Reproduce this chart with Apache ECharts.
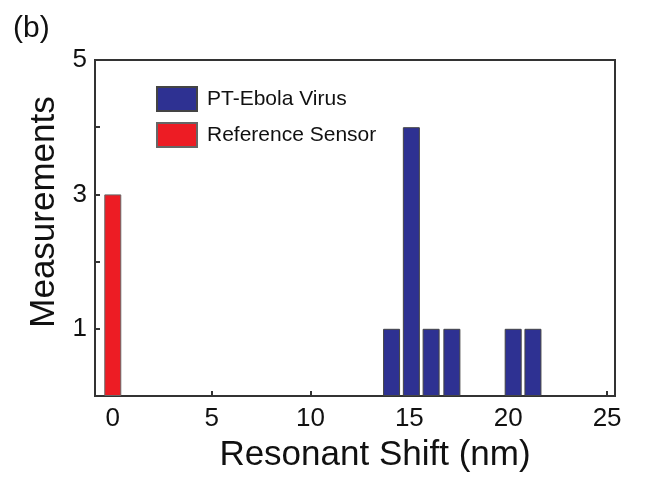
<!DOCTYPE html>
<html>
<head>
<meta charset="utf-8">
<script src="https://cdn.jsdelivr.net/npm/echarts@6/dist/echarts.min.js"></script>
<style>html,body{margin:0;padding:0;background:#fff}#c{width:652px;height:487px}</style>
</head>
<body>
<div id="c"></div>
<script>
// Data
const ebolaShift = [14.1, 15.1, 16.1, 17.15, 20.25, 21.25];
const ebolaCount = [1, 4, 1, 1, 1, 1];
const refShift = [0];
const refCount = [3];
const xTicks = [0, 5, 10, 15, 20, 25];
const yLabels = [1, 3, 5];
const yTicks = [1, 2, 3, 4, 5];

const FONT = 'Liberation Sans, Arial, Helvetica, sans-serif';
const chart = echarts.init(document.getElementById('c'), null, {renderer: 'canvas'});
const toPairs = (xs, ys) => xs.map((x, i) => [x, ys[i]]);

chart.setOption({
  animation: false,
  backgroundColor: '#fff',
  title: {
    text: '(b)', left: 8, top: 9,
    textStyle: {fontFamily: FONT, fontSize: 30, fontWeight: 'normal', color: '#111'}
  },
  grid: {
    left: 95, right: 37, top: 60, bottom: 91,
    show: true, borderColor: '#333', borderWidth: 2, backgroundColor: 'transparent'
  },
  legend: {
    orient: 'vertical', left: 151, top: 81,
    itemWidth: 40, itemHeight: 24, itemGap: 10,
    icon: 'rect',
    textStyle: {fontFamily: FONT, fontSize: 21, color: '#111', padding: [0, 0, 0, 5]},
    data: ['PT-Ebola Virus', 'Reference Sensor']
  },
  xAxis: {
    type: 'value', min: -0.9, max: 25.4,
    name: 'Resonant Shift (nm)', nameLocation: 'middle', nameGap: 42,
    nameTextStyle: {fontFamily: FONT, fontSize: 35, color: '#111', padding: [0, 0, 0, 40]},
    axisLine: {show: true, onZero: false, lineStyle: {color: '#333', width: 2}},
    axisTick: {show: true, inside: true, length: 5, customValues: xTicks, lineStyle: {color: '#333', width: 2}},
    axisLabel: {customValues: xTicks, fontFamily: FONT, fontSize: 26, color: '#111', margin: 10},
    splitLine: {show: false}
  },
  yAxis: {
    type: 'value', min: 0, max: 5,
    name: 'Measurements', nameLocation: 'middle', nameGap: 32,
    nameTextStyle: {fontFamily: FONT, fontSize: 35, color: '#111', padding: [0, 0, 0, 32]},
    axisLine: {show: true, onZero: false, lineStyle: {color: '#333', width: 2}},
    axisTick: {show: true, inside: true, length: 5, customValues: yTicks, lineStyle: {color: '#333', width: 2}},
    axisLabel: {customValues: yLabels, fontFamily: FONT, fontSize: 26, color: '#111', margin: 8},
    splitLine: {show: false}
  },
  series: [
    {
      name: 'PT-Ebola Virus', type: 'bar', barWidth: 17, barGap: '-100%',
      itemStyle: {color: '#2E3192', borderColor: '#444', borderWidth: 1},
      data: toPairs(ebolaShift, ebolaCount)
    },
    {
      name: 'Reference Sensor', type: 'bar', barWidth: 17, barGap: '-100%',
      itemStyle: {color: '#ED1C24', borderColor: '#666', borderWidth: 1},
      data: toPairs(refShift, refCount)
    }
  ]
});
</script>
</body>
</html>
